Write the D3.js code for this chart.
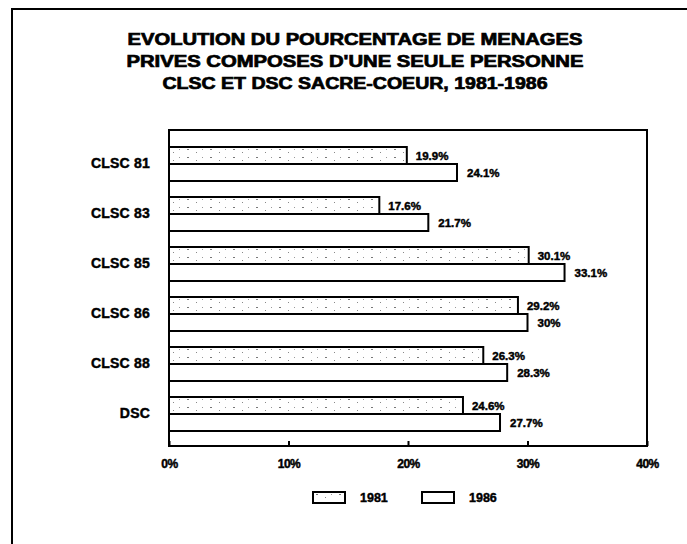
<!DOCTYPE html>
<html>
<head>
<meta charset="utf-8">
<script src="https://cdn.jsdelivr.net/npm/d3@7"></script>
<style>
  body { margin: 0; background: #fff; }
  text { font-family: "Liberation Sans", Arial, sans-serif; font-weight: bold; fill: #000; stroke: #000; stroke-width: 0.45px; }
</style>
</head>
<body>
<div id="chart"></div>
<script>
var categories = ["CLSC 81", "CLSC 83", "CLSC 85", "CLSC 86", "CLSC 88", "DSC"];
var years = ["1981", "1986"];
var values1981 = [19.9, 17.6, 30.1, 29.2, 26.3, 24.6];
var values1986 = [24.1, 21.7, 33.1, 30, 28.3, 27.7];
var tickValues = [0, 10, 20, 30, 40];
var titleLines = [
    "EVOLUTION DU POURCENTAGE DE MENAGES",
    "PRIVES COMPOSES D'UNE SEULE PERSONNE",
    "CLSC ET DSC SACRE-COEUR, 1981-1986"
];

var width = 687;
var height = 544;

var svg = d3.select('#chart')
    .append('svg')
    .attr('width', width)
    .attr('height', height);

// sparse speckle for the 1981 bars
var defs = svg.append('defs');
var pat = defs.append('pattern')
    .attr('id', 'speckle')
    .attr('patternUnits', 'userSpaceOnUse')
    .attr('width', 23)
    .attr('height', 8);
pat.append('rect').attr('width', 23).attr('height', 8).attr('fill', '#fff');
pat.append('rect').attr('x', 3).attr('y', 2).attr('width', 2).attr('height', 1).attr('fill', '#777');
pat.append('rect').attr('x', 12).attr('y', 5).attr('width', 1).attr('height', 1).attr('fill', '#888');
pat.append('rect').attr('x', 18).attr('y', 2).attr('width', 1).attr('height', 1).attr('fill', '#999');

// outer frame (top and left edges only)
svg.append('path')
    .attr('d', 'M12,544 L12,9 L687,9')
    .attr('fill', 'none')
    .attr('stroke', '#000')
    .attr('stroke-width', 2);

// title
svg.selectAll('.title')
    .data(titleLines)
    .enter()
    .append('text')
    .attr('class', 'title')
    .attr('x', 355)
    .attr('y', function (d, i) { return 45 + i * 22; })
    .attr('text-anchor', 'middle')
    .attr('textLength', function (d, i) { return [455, 457, 385][i]; })
    .attr('lengthAdjust', 'spacingAndGlyphs')
    .style('font-size', '16px')
    .style('stroke-width', '0.7px')
    .text(function (d) { return d; });

var x = d3.scaleLinear()
    .domain([0, 40])
    .range([169, 647]);

var y = d3.scaleBand()
    .domain(categories)
    .range([131, 447])
    .paddingInner(0.32)
    .paddingOuter(0.32);

var sub = d3.scaleBand()
    .domain(years)
    .range([0, y.bandwidth()]);

var rows = categories.map(function (c, i) {
    return { cat: c, v81: values1981[i], v86: values1986[i] };
});

// x axis
var xAxis = d3.axisBottom(x)
    .tickValues(tickValues)
    .tickSizeInner(-5)
    .tickSizeOuter(0)
    .tickPadding(13)
    .tickFormat(function (d) { return d + '%'; });

var gx = svg.append('g')
    .attr('transform', 'translate(0,' + 446 + ')')
    .call(xAxis);
gx.select('.domain').remove();
gx.selectAll('line').attr('stroke', '#000').attr('stroke-width', 2);
gx.selectAll('text')
    .attr('fill', '#000')
    .style('font-size', '12px')
    .style('letter-spacing', '-0.5px');

// y axis labels
var yAxis = d3.axisLeft(y)
    .tickSize(0)
    .tickPadding(19);
var gy = svg.append('g')
    .attr('transform', 'translate(169,0)')
    .call(yAxis);
gy.select('.domain').remove();
gy.selectAll('text')
    .attr('fill', '#000')
    .style('font-size', '14px')
    .style('letter-spacing', '0.2px');

var groups = svg.selectAll('.grp')
    .data(rows)
    .enter()
    .append('g')
    .attr('class', 'grp')
    .attr('transform', function (d) { return 'translate(0,' + y(d.cat) + ')'; });

groups.append('rect')
    .attr('x', x(0))
    .attr('y', sub('1981'))
    .attr('width', function (d) { return x(d.v81) - x(0); })
    .attr('height', sub.bandwidth())
    .attr('fill', 'url(#speckle)')
    .attr('stroke', '#000')
    .attr('stroke-width', 2);

groups.append('rect')
    .attr('x', x(0))
    .attr('y', sub('1986'))
    .attr('width', function (d) { return x(d.v86) - x(0); })
    .attr('height', sub.bandwidth())
    .attr('fill', '#fff')
    .attr('stroke', '#000')
    .attr('stroke-width', 2);

groups.append('text')
    .attr('x', function (d) { return x(d.v81) + 9; })
    .attr('y', sub('1981') + sub.bandwidth() / 2)
    .attr('dy', '0.35em')
    .style('font-size', '11.5px')
    .text(function (d) { return d.v81 + '%'; });

groups.append('text')
    .attr('x', function (d) { return x(d.v86) + 10; })
    .attr('y', sub('1986') + sub.bandwidth() / 2)
    .attr('dy', '0.35em')
    .style('font-size', '11.5px')
    .text(function (d) { return d.v86 + '%'; });

// plot box
svg.append('rect')
    .attr('x', x(0))
    .attr('y', 130)
    .attr('width', x(40) - x(0))
    .attr('height', 446 - 130)
    .attr('fill', 'none')
    .attr('stroke', '#000')
    .attr('stroke-width', 2);

// legend
var legendX = [313, 422];
var legend = svg.selectAll('.legend')
    .data(years)
    .enter()
    .append('g')
    .attr('class', 'legend')
    .attr('transform', function (d, i) { return 'translate(' + legendX[i] + ',492)'; });

legend.append('rect')
    .attr('width', 32)
    .attr('height', 11)
    .attr('fill', function (d, i) { return i === 0 ? 'url(#speckle)' : '#fff'; })
    .attr('stroke', '#000')
    .attr('stroke-width', 2);

legend.append('text')
    .attr('x', 47)
    .attr('y', 6)
    .attr('dy', '0.35em')
    .style('font-size', '12.5px')
    .text(function (d) { return d; });
</script>
</body>
</html>
